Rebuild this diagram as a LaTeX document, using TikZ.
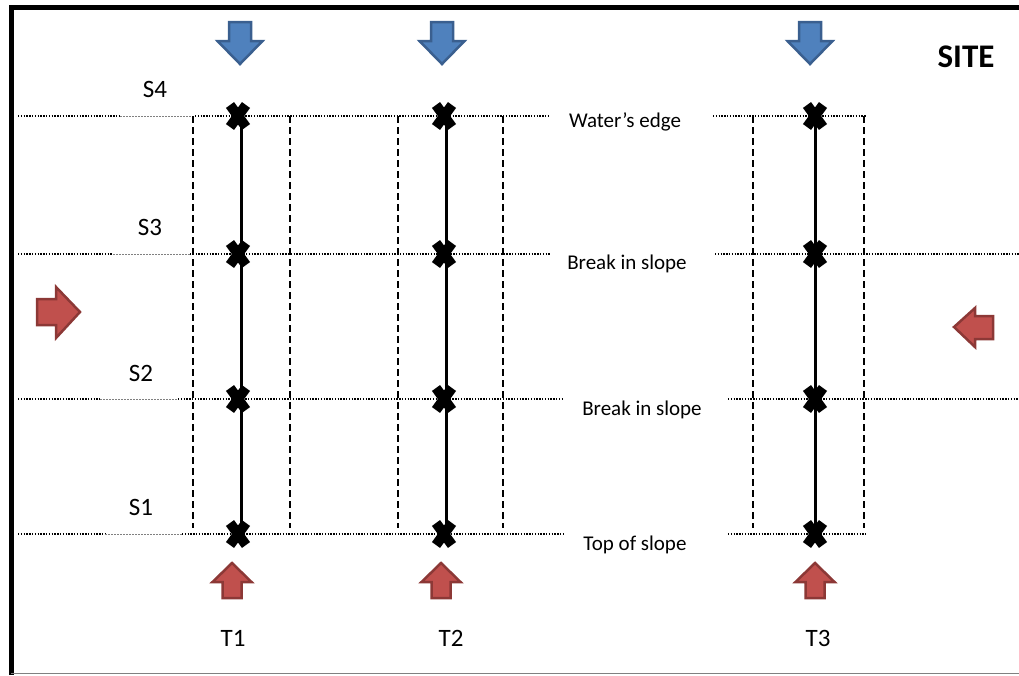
\documentclass[tikz,border=0pt]{standalone}
\usepackage{fontspec}
\setmainfont{Carlito}
\definecolor{bfill}{HTML}{4F81BD}
\definecolor{bline}{HTML}{3A5F8F}
\definecolor{rfill}{HTML}{C0504D}
\definecolor{rline}{HTML}{8C3836}
\begin{document}
\begin{tikzpicture}[x=1pt,y=-1pt,
  dotline/.style={line width=1.4pt,dash pattern=on 1.4pt off 1.4pt},
  fineline/.style={line width=0.6pt,gray,dash pattern=on 2pt off 1pt},
  dashline/.style={line width=1.4pt,dash pattern=on 7pt off 4pt},
  tline/.style={line width=3pt},
  lbl/.style={inner sep=0pt,font=\fontsize{21}{24}\selectfont},
  big/.style={inner sep=0pt,font=\fontsize{25}{30}\selectfont},
  bluearr/.style={fill=bfill,draw=bline,line width=2.5pt,line join=miter},
  redarr/.style={fill=rfill,draw=rline,line width=2.5pt,line join=miter},
  pics/crossmark/.style={code={\draw[line width=10pt] (-8,-11)--(8,11) (-8,11)--(8,-11);}},
  pics/downarr/.style={code={\draw[bluearr] (-11,0)--(11,0)--(11,19)--(22.5,19)--(0,42)--(-22.5,19)--(-11,19)--cycle;}},
  pics/uparr/.style={code={\draw[redarr] (0,0)--(19.5,19)--(9.5,19)--(9.5,35)--(-9.5,35)--(-9.5,19)--(-19.5,19)--cycle;}}
]
\useasboundingbox (0,0) rectangle (1019,675);
% border
\draw[line width=5pt] (11,675) -- (11,7) -- (1019,7);
\draw[line width=1.5pt,gray] (11,673.5) -- (1019,673.5);

% horizontal row coordinates
\foreach \n/\y in {1/116,2/254,3/399,4/534}{
  \coordinate (L\n) at (18,\y);
}
\coordinate (A1) at (120,116); \coordinate (B1) at (195,116);
\coordinate (A2) at (113,254); \coordinate (B2) at (190,254);
\coordinate (A3) at (100,399); \coordinate (B3) at (178,399);
\coordinate (A4) at (105,534); \coordinate (B4) at (182,534);
\coordinate (E1) at (550,116); \coordinate (R1) at (713,116); \coordinate (F1) at (866,116);
\coordinate (E2) at (550,254); \coordinate (R2) at (715,254); \coordinate (F2) at (1019,254);
\coordinate (E3) at (563,399); \coordinate (R3) at (728,399); \coordinate (F3) at (1019,399);
\coordinate (E4) at (563,534); \coordinate (R4) at (728,534); \coordinate (F4) at (866,534);
\foreach \n in {1,2,3,4}{
  \draw[dotline] (L\n) -- (A\n);
  \draw[fineline] (A\n) -- (B\n);
  \draw[dotline] (B\n) -- (E\n);
  \draw[dotline] (R\n) -- (F\n);
}

% dashed verticals
\foreach \i/\x in {a/193,b/290,c/398,d/503,e/753,f/864}{
  \coordinate (V\i t) at (\x,116);
  \coordinate (V\i b) at (\x,528);
  \draw[dashline] (V\i t) -- (V\i b);
}

% transect lines
\coordinate (T1t) at (241,116); \coordinate (T1b) at (241,534);
\coordinate (T2t) at (446,116); \coordinate (T2b) at (446,534);
\coordinate (T3t) at (815,116); \coordinate (T3b) at (815,534);
\draw[tline] (T1t) -- (T1b);
\draw[tline] (T2t) -- (T2b);
\draw[tline] (T3t) -- (T3b);

% crosses
\foreach \x in {238,444,815}{
  \foreach \y in {116,254,399,534}{
    \pic at (\x,\y) {crossmark};
  }
}

% arrows
\pic at (240,22) {downarr};
\pic at (442,22) {downarr};
\pic at (810,22) {downarr};
\pic at (232,563) {uparr};
\pic at (441,563) {uparr};
\pic at (815,563) {uparr};
\draw[redarr] (37,299)--(56,299)--(56,287)--(80,312)--(56,338)--(56,325)--(37,325)--cycle;
\draw[redarr] (954,327)--(975,308)--(975,316)--(993,316)--(993,339)--(975,339)--(975,347)--cycle;

% labels
\node[lbl] (we) at (625,122) {Water’s edge};
\node[lbl] (bs1) at (627,264) {Break in slope};
\node[lbl] (bs2) at (642,410) {Break in slope};
\node[lbl] (ts) at (635,545) {Top of slope};
\node[big] (s4) at (155,89) {S4};
\node[big] (s3) at (150,227) {S3};
\node[big] (s2) at (141,373) {S2};
\node[big] (s1) at (141,507) {S1};
\node[big] (t1) at (233,638) {T1};
\node[big] (t2) at (451,638) {T2};
\node[big] (t3) at (818,638) {T3};
\node[inner sep=0pt,font=\fontsize{33}{38}\selectfont\bfseries] (site) at (966,57) {SITE};
\end{tikzpicture}
\end{document}
